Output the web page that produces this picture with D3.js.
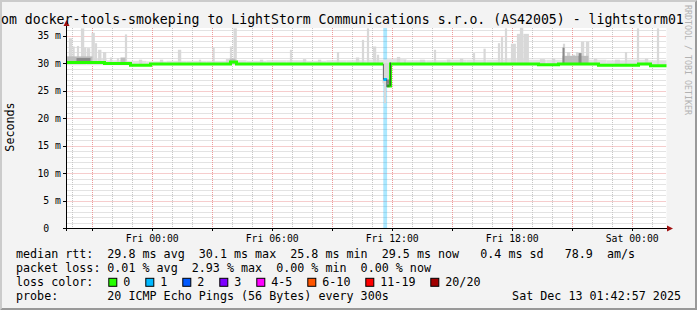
<!DOCTYPE html>
<html>
<head>
<meta charset="utf-8">
<script src="https://cdn.jsdelivr.net/npm/d3@7/dist/d3.min.js"></script>
<style>
body { margin: 0; background: #f3f3f3; }
svg { display: block; }
text { font-family: "DejaVu Sans Mono", monospace; white-space: pre; }
</style>
</head>
<body>
<svg width="697" height="310"></svg>
<script>
// window: 30 hours ending Sat Dec 13 01:42:57 2025
var start = new Date(2025, 11, 11, 19, 42, 57);
var end = new Date(2025, 11, 13, 1, 42, 57);

// median rtt as steps: [hours since start, ms, lost pings]
var medianSteps = [
  [0, 30.1, 0], [1.9, 29.9, 0], [3.2, 29.6, 0], [4.2, 29.8, 0], [8.2, 30.2, 0], [8.5, 29.8, 0],
  [15.84, 27.0, 1], [16.03, 25.8, 0], [16.2, 29.8, 0], [23.6, 29.7, 0], [24.6, 29.8, 0],
  [26.6, 29.6, 0], [28.6, 29.8, 0], [29.2, 29.5, 0], [30, 29.5, 0]
];

// smoke spikes above the median: [hours since start, max ms, 5-min steps]
var smokeSpikes = [
  [0.12, 34.5, 2], [0.3, 33.0, 1], [0.52, 33.1, 1], [0.72, 36.3, 2], [0.88, 32.8, 1],
  [1.02, 32.7, 2], [1.25, 35.5, 2], [1.42, 33.6, 1], [1.58, 32.4, 2], [1.82, 32.0, 2],
  [2.17, 31.0, 1], [2.52, 30.9, 1], [2.72, 30.9, 1], [2.92, 35.2, 1], [3.62, 30.6, 2],
  [4.67, 30.6, 2], [5.57, 32.4, 2], [6.62, 30.6, 1], [7.3, 32.8, 1], [7.97, 30.7, 2],
  [8.17, 33.0, 1], [8.35, 36.3, 2], [9.67, 30.6, 2], [11.17, 32.4, 1], [11.82, 30.7, 2],
  [12.57, 30.6, 2], [13.52, 32.0, 1], [14.47, 31.0, 2], [14.77, 34.2, 1], [15.02, 36.3, 1],
  [15.32, 33.0, 2], [15.52, 31.5, 1], [16.52, 31.1, 2], [16.87, 30.5, 1], [17.67, 30.6, 3],
  [18.37, 32.4, 1], [19.02, 30.6, 2], [19.67, 30.8, 2], [20.32, 31.8, 1], [20.85, 32.6, 1],
  [21.57, 33.6, 1], [21.72, 34.7, 1], [21.92, 36.3, 1], [22.22, 33.5, 3], [22.52, 35.3, 4],
  [22.67, 36.4, 2], [22.87, 35.3, 3], [23.67, 30.7, 3], [24.27, 30.8, 2], [24.82, 33.5, 1],
  [25.02, 32.0, 2], [25.27, 31.5, 2], [25.47, 32.0, 1], [25.72, 33.9, 2], [25.97, 33.9, 2],
  [26.37, 30.8, 2], [27.42, 30.6, 3], [27.92, 32.0, 1], [28.52, 36.3, 1], [28.92, 30.8, 2],
  [29.52, 36.3, 1]
];

// thin smoke band above the median, one value per hour (ms)
var baseSmoke = [30.9, 30.8, 30.5, 30.4, 30.3, 30.4, 30.4, 30.4, 30.5, 30.4, 30.5, 30.5, 30.4, 30.5, 30.5,
  30.6, 30.7, 30.5, 30.5, 30.6, 30.6, 30.6, 30.7, 30.6, 30.6, 30.9, 30.6, 30.5, 30.6, 30.5];

// denser smoke: [from hour, to hour, max ms, density]
var darkSmoke = [
  [0.0, 1.3, 31.2, 2], [0.5, 1.2, 30.9, 3], [2.7, 2.95, 31.0, 2], [8.15, 8.45, 30.8, 2],
  [24.8, 26.1, 31.3, 2], [24.8, 24.9, 32.8, 3], [25.6, 25.75, 31.8, 3]
];

// smoke around the drop near Fri 12:00: [from hour, to hour, low ms, high ms, density]
var dipSmoke = [
  [15.80, 16.22, 26.3, 30.0, 1], [15.88, 15.98, 22.7, 26.8, 1],
  [15.84, 15.87, 27.0, 29.8, 4], [16.17, 16.21, 25.8, 30.1, 4],
  [16.0, 16.05, 25.6, 27.0, 4], [16.1, 16.14, 25.6, 27.0, 4]
];

var rttValues = [29.8, 30.1, 25.8, 29.5, 0.4];
var rttNames = ["ms avg", "ms max", "ms min", "ms now", "ms sd"];
var ampsValue = 78.9;
var lossValues = [0.01, 2.93, 0.00, 0.00];
var lossNames = ["% avg", "% max", "% min", "% now"];
var lossClasses = ["0", "1", "2", "3", "4-5", "6-10", "11-19", "20/20"];
var lossClassColors = ["#26ff00", "#00b8ff", "#0059ff", "#7e00ff", "#ff00ff", "#ff5500", "#ff0000", "#a10000"];

var titleText = "om docker-tools-smokeping to LightStorm Communications s.r.o. (AS42005) - lightstorm01";
var probeText = "20 ICMP Echo Pings (56 Bytes) every 300s";
var stampText = "Sat Dec 13 01:42:57 2025";

var svg = d3.select("svg");
var W = 697, H = 310;
var x0 = 66.5, x1 = 666.5, yTop = 28, yBot = 228;

function T(h) { return new Date(start.getTime() + h * 3600000); }

var xScale = d3.scaleTime().domain([start, end]).range([x0, x1]);
var yScale = d3.scaleLinear().domain([0, 36.364]).range([yBot, yTop]);
var stepPx = xScale(T(1 / 12)) - xScale(T(0));
var shade = d3.scaleOrdinal().domain([1, 2, 3, 4]).range(["#d8d8d8", "#bdbdbd", "#8a8a8a", "#303030"]);
var lossColor = d3.scaleOrdinal().domain(d3.range(lossClasses.length)).range(lossClassColors);

function medianAt(h) {
  var v = medianSteps[0][1];
  medianSteps.forEach(function(s) { if (s[0] <= h) v = s[1]; });
  return v;
}

// background and 3d border
svg.append("rect").attr("width", W).attr("height", H).attr("fill", "#f3f3f3");
svg.append("polygon").attr("points", "0,310 2,308 2,2 695,2 697,0 0,0").attr("fill", "#cbcbcb");
svg.append("polygon").attr("points", "2,308 695,308 695,2 697,0 697,310 0,310").attr("fill", "#999999");

// canvas
svg.append("rect").attr("x", x0).attr("y", yTop).attr("width", x1 - x0).attr("height", yBot - yTop).attr("fill", "#ffffff");

// grid
var grid = svg.append("g");
var hours = d3.timeHour.range(start, end);
var msLines = d3.range(1, 37);

function gx(d) { return Math.round(xScale(d)) + 0.5; }
function gy(v) { return Math.round(yScale(v)) + 0.5; }

grid.selectAll(".hmin").data(msLines.filter(function(v) { return v % 5 !== 0; })).enter().append("line")
  .attr("x1", x0).attr("x2", x1).attr("y1", gy).attr("y2", gy)
  .attr("stroke", "#c6c6c6").attr("stroke-dasharray", "1,1");
grid.selectAll(".vmin").data(hours.filter(function(d) { return d.getHours() % 3 !== 0; })).enter().append("line")
  .attr("x1", gx).attr("x2", gx).attr("y1", yTop).attr("y2", yBot)
  .attr("stroke", "#c6c6c6").attr("stroke-dasharray", "1,1");
grid.selectAll(".hmaj").data(msLines.filter(function(v) { return v % 5 === 0; })).enter().append("line")
  .attr("x1", x0).attr("x2", x1).attr("y1", gy).attr("y2", gy)
  .attr("stroke", "#ec9a9a").attr("stroke-dasharray", "1,1");
grid.selectAll(".vmaj").data(hours.filter(function(d) { return d.getHours() % 3 === 0; })).enter().append("line")
  .attr("x1", gx).attr("x2", gx).attr("y1", yTop).attr("y2", yBot)
  .attr("stroke", "#ec9a9a").attr("stroke-dasharray", "1,1");

var plot = svg.append("g");

// loss bars
medianSteps.forEach(function(s, i) {
  if (s[2] > 0 && i < medianSteps.length - 1) {
    plot.append("rect")
      .attr("x", xScale(T(s[0])))
      .attr("y", yTop)
      .attr("width", xScale(T(medianSteps[i + 1][0])) - xScale(T(s[0])))
      .attr("height", yBot - yTop)
      .attr("fill", lossColor(s[2]))
      .attr("opacity", 0.33);
  }
});

// smoke
plot.selectAll(".base").data(baseSmoke).enter().append("rect")
  .attr("x", function(d, i) { return xScale(T(i)); })
  .attr("y", function(d) { return yScale(d); })
  .attr("width", function(d, i) { return xScale(T(i + 1)) - xScale(T(i)); })
  .attr("height", function(d) { return yScale(29.6) - yScale(d); })
  .attr("fill", "#e2e2e2");

plot.selectAll(".spike").data(smokeSpikes).enter().append("rect")
  .attr("x", function(d) { return xScale(T(d[0])); })
  .attr("y", function(d) { return yScale(d[1]); })
  .attr("width", function(d) { return Math.max(d[2] * stepPx, 2.2); })
  .attr("height", function(d) { return yScale(medianAt(d[0])) - yScale(d[1]); })
  .attr("fill", shade(1));

plot.selectAll(".dark").data(darkSmoke).enter().append("rect")
  .attr("x", function(d) { return xScale(T(d[0])); })
  .attr("y", function(d) { return yScale(d[2]); })
  .attr("width", function(d) { return xScale(T(d[1])) - xScale(T(d[0])); })
  .attr("height", function(d) { return yScale(medianAt(d[0])) - yScale(d[2]); })
  .attr("fill", function(d) { return shade(d[3]); });

plot.selectAll(".dip").data(dipSmoke.filter(function(d) { return d[4] < 4; })).enter().append("rect")
  .attr("x", function(d) { return xScale(T(d[0])); })
  .attr("y", function(d) { return yScale(d[3]); })
  .attr("width", function(d) { return xScale(T(d[1])) - xScale(T(d[0])); })
  .attr("height", function(d) { return yScale(d[2]) - yScale(d[3]); })
  .attr("fill", function(d) { return shade(d[4]); });

// median line, one run per loss class
var runs = [];
medianSteps.forEach(function(s, i) {
  if (i === medianSteps.length - 1) return;
  var next = medianSteps[i + 1];
  var last = runs[runs.length - 1];
  if (!last || last.loss !== s[2]) { last = {loss: s[2], pts: []}; runs.push(last); }
  last.pts.push([s[0], s[1]]);
  last.pts.push([next[0], s[1]]);
});
var line = d3.line()
  .x(function(p) { return xScale(T(p[0])); })
  .y(function(p) { return yScale(p[1]); });
svg.selectAll(".median").data(runs).enter().append("path")
  .attr("d", function(r) { return line(r.pts); })
  .attr("fill", "none")
  .attr("stroke", function(r) { return lossColor(r.loss); })
  .attr("stroke-width", 3);

svg.selectAll(".dipline").data(dipSmoke.filter(function(d) { return d[4] === 4; })).enter().append("rect")
  .attr("x", function(d) { return xScale(T(d[0])); })
  .attr("y", function(d) { return yScale(d[3]); })
  .attr("width", function(d) { return xScale(T(d[1])) - xScale(T(d[0])); })
  .attr("height", function(d) { return yScale(d[2]) - yScale(d[3]); })
  .attr("fill", shade(4));

// axes
var axis = svg.append("g");
axis.append("line").attr("x1", 63).attr("x2", 668).attr("y1", yBot + 0.5).attr("y2", yBot + 0.5).attr("stroke", "#000");
axis.append("line").attr("x1", x0).attr("x2", x0).attr("y1", 231).attr("y2", 25).attr("stroke", "#000");
axis.append("path").attr("d", "M667,225.5L673,228.5L667,231.5Z").attr("fill", "#a01010");
axis.append("path").attr("d", "M63.5,26L66.5,20L69.5,26Z").attr("fill", "#a01010");

axis.selectAll(".xt").data(hours.filter(function(d) { return d.getHours() % 3 === 0; })).enter().append("line")
  .attr("x1", gx).attr("x2", gx).attr("y1", yBot).attr("y2", yBot + 3).attr("stroke", "#000");
axis.selectAll(".yt").data(msLines.filter(function(v) { return v % 5 === 0; })).enter().append("line")
  .attr("x1", 63).attr("x2", x0).attr("y1", gy).attr("y2", gy).attr("stroke", "#000");

var fmt = d3.timeFormat("%a %H:%M");
axis.selectAll(".xl").data(hours.filter(function(d) { return d.getHours() % 6 === 0; })).enter().append("text")
  .attr("x", function(d) { return xScale(d); })
  .attr("y", 241.5)
  .attr("text-anchor", "middle")
  .attr("font-size", "9.8px")
  .attr("fill", "#000")
  .text(fmt);

axis.selectAll(".yl").data(d3.range(0, 36, 5)).enter().append("text")
  .attr("x", 61)
  .attr("y", function(v) { return yScale(v) + 3.5; })
  .attr("text-anchor", "end")
  .attr("font-size", "9.8px")
  .attr("fill", "#000")
  .text(function(v) { return v === 0 ? "0  " : v + " m"; });

// title, unit, watermark
svg.append("text").attr("x", 1).attr("y", 24).attr("font-size", "13.2px").attr("fill", "#000").text(titleText);
svg.append("text").attr("transform", "translate(13.5,127) rotate(-90)").attr("text-anchor", "middle")
  .attr("font-size", "11.7px").attr("fill", "#000").text("Seconds");
svg.append("text").attr("transform", "translate(684.5,60) rotate(90)").attr("text-anchor", "middle")
  .attr("font-size", "8.3px").attr("fill", "#b2b2b2").text("RRDTOOL / TOBI OETIKER");

// legend
var leg = svg.append("g").attr("font-size", "11.7px").attr("fill", "#000");
var rows = [258, 272, 285.8, 299.6];
var colX = 107.3, labX = 16;

var rttLine = rttValues.map(function(v, i) {
  var s = v.toFixed(1);
  while (s.length < 4) s = " " + s;
  return s + " " + rttNames[i];
}).join("  ") + "   " + ampsValue.toFixed(1) + "  am/s";
var lossLine = lossValues.map(function(v, i) { return v.toFixed(2) + " " + lossNames[i]; }).join("  ");

leg.append("text").attr("x", labX).attr("y", rows[0]).text("median rtt:");
leg.append("text").attr("x", colX).attr("y", rows[0]).text(rttLine);
leg.append("text").attr("x", labX).attr("y", rows[1]).text("packet loss:");
leg.append("text").attr("x", colX).attr("y", rows[1]).text(lossLine);
leg.append("text").attr("x", labX).attr("y", rows[2]).text("loss color:");
leg.append("text").attr("x", labX).attr("y", rows[3]).text("probe:");
leg.append("text").attr("x", colX).attr("y", rows[3]).text(probeText);
leg.append("text").attr("x", 681).attr("y", rows[3]).attr("text-anchor", "end").text(stampText);

var charW = 7.0, sx = 108.3;
lossClasses.forEach(function(c, i) {
  leg.append("rect").attr("x", sx + 0.5).attr("y", rows[2] - 7.5).attr("width", 8).attr("height", 8)
    .attr("fill", lossColor(i)).attr("stroke", "#000");
  leg.append("text").attr("x", sx + 15).attr("y", rows[2]).text(c);
  sx += 30 + c.length * charW;
});
</script>
</body>
</html>
